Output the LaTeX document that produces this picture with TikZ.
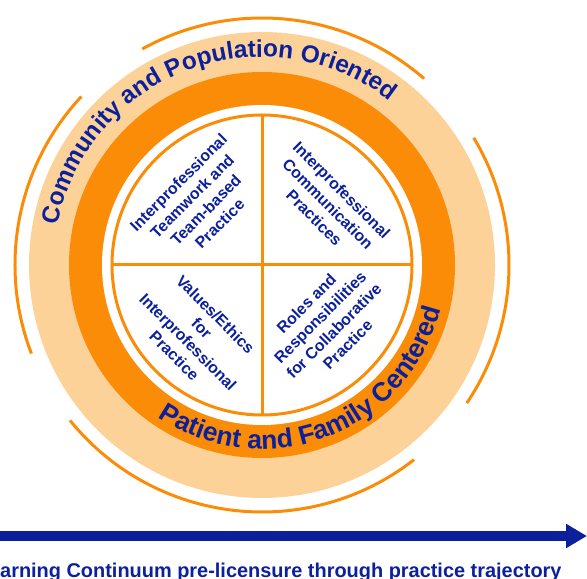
\documentclass[tikz,border=0pt]{standalone}
\usepackage{fontspec}
\setmainfont{Liberation Sans}
\usetikzlibrary{decorations.text,arrows.meta}

\definecolor{ringorange}{RGB}{250,140,8}
\definecolor{ringlight}{RGB}{253,210,152}
\definecolor{textblue}{RGB}{12,32,155}

\newcommand{\outerfont}{\fontsize{24.5}{29}\selectfont\bfseries}
\newcommand{\bandfont}{\fontsize{26.5}{31}\selectfont\bfseries}

\tikzset{
  ringline/.style={ringorange, line width=3bp},
  quad/.style={text=textblue, align=center, inner sep=0pt,
    font=\fontsize{16}{19.5}\selectfont\bfseries}
}

\begin{document}
\begin{tikzpicture}[x=1bp,y=1bp]

    % Radii of the rings
    \def\rarc{247}
    \def\rlight{233}
    \def\rorange{193}
    \def\rwhite{160}
    \def\rinner{150}

    \useasboundingbox (-262,-314) rectangle (325,265);

    % Filled rings, from the outside in
    \fill[ringlight] (0,0) circle (\rlight);
    \fill[ringorange] (0,0) circle (\rorange);
    \fill[white] (0,0) circle (\rwhite);

    % Inner circle split into four
    \coordinate (O) at (0,0);
    \coordinate (N) at (90:\rinner);
    \coordinate (S) at (270:\rinner);
    \coordinate (E) at (0:\rinner);
    \coordinate (W) at (180:\rinner);
    \draw[ringline] (O) circle (\rinner);
    \draw[ringline] (N) -- (S);
    \draw[ringline] (W) -- (E);

    % Broken circle round the outside
    \foreach \a/\b in {-34/31, 49/119, 137/201, 219/308}
        \draw[ringline] (\a:\rarc) arc[start angle=\a, end angle=\b, radius=\rarc];

    % Curved labels on the two rings
    \path[decorate, decoration={text along path, text align=center,
        text={|\outerfont\color{textblue}|Community and Population Oriented}}]
        (180.5:208) arc[start angle=180.5, end angle=40.5, radius=208];
    \path[decorate, decoration={text along path, text align=center,
        text={|\bandfont\color{textblue}|Patient and Family Centered}}]
        (220.9:184) arc[start angle=220.9, end angle=360.9, radius=184];

    % The four quarters
    \node[quad, rotate=45] (teamwork) at (-63,62)
        {Interprofessional\\Teamwork and\\Team-based\\Practice};
    \node[quad, rotate=-45] (communication) at (66,61)
        {Interprofessional\\Communication\\Practices};
    \node[quad, rotate=-45] (ethics) at (-67,-70)
        {Values/Ethics\\for\\Interprofessional\\Practice};
    \node[quad, rotate=45] (roles) at (65,-59)
        {Roles and\\Responsibilities\\for Collaborative\\Practice};

    % Trajectory arrow and its label
    \coordinate (arrowstart) at (-265,-271);
    \coordinate (arrowend) at (325,-271);
    \draw[textblue, line width=10bp, -{Triangle[length=21bp,width=23bp]}]
        (arrowstart) -- (arrowend);
    \node[anchor=base west, inner sep=0pt, text=textblue,
        font=\fontsize{20}{24}\selectfont\bfseries] (trajectory) at (-262,-312)
        {arning Continuum pre-licensure through practice trajectory};

\end{tikzpicture}
\end{document}
